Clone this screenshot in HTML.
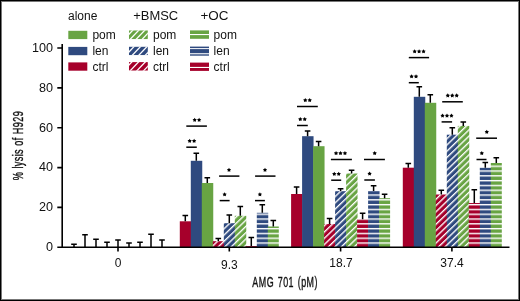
<!DOCTYPE html>
<html><head><meta charset="utf-8"><style>
html,body{margin:0;padding:0;background:#fff}
body{width:520px;height:301px;overflow:hidden;position:relative}
svg{position:absolute;left:0;top:0;will-change:transform}
text{font-family:"Liberation Sans",sans-serif;fill:#111}
.e{stroke:#000;stroke-width:1.5;fill:none}
.l{stroke:#000;stroke-width:1.5;fill:none}
.ax{stroke:#000;stroke-width:1.6;fill:none}
</style></head><body>
<svg width="520" height="301" viewBox="0 0 520 301">
<defs>
<pattern id="h0" patternUnits="userSpaceOnUse" width="4.5" height="6" patternTransform="rotate(46)"><rect width="4.5" height="6" fill="#A6002B"/><rect x="0" width="1.35" height="6" fill="#fff"/></pattern>
<pattern id="h1" patternUnits="userSpaceOnUse" width="4.5" height="6" patternTransform="rotate(46)"><rect width="4.5" height="6" fill="#2F4A7F"/><rect x="0" width="1.35" height="6" fill="#fff"/></pattern>
<pattern id="h2" patternUnits="userSpaceOnUse" width="4.5" height="6" patternTransform="rotate(46)"><rect width="4.5" height="6" fill="#68A443"/><rect x="0" width="1.35" height="6" fill="#fff"/></pattern>
<pattern id="s0" patternUnits="userSpaceOnUse" width="10" height="4.8" y="2.35"><rect width="10" height="4.8" fill="#A6002B"/><rect y="0" width="10" height="1.4" fill="#fff"/></pattern>
<pattern id="s1" patternUnits="userSpaceOnUse" width="10" height="4.8" y="2.35"><rect width="10" height="4.8" fill="#2F4A7F"/><rect y="0" width="10" height="1.4" fill="#fff"/></pattern>
<pattern id="s2" patternUnits="userSpaceOnUse" width="10" height="4.8" y="2.35"><rect width="10" height="4.8" fill="#68A443"/><rect y="0" width="10" height="1.4" fill="#fff"/></pattern>
</defs>
<rect x="0.5" y="0.5" width="519" height="300" fill="none" stroke="#000" stroke-width="1"/>
<rect x="1.5" y="1.5" width="517" height="298" fill="none" stroke="#777" stroke-width="1"/>
<path d="M74 247.3V244.2M71.2 244.2H76.8" class="e"/>
<path d="M85 247.3V234.7M82.2 234.7H87.8" class="e"/>
<path d="M96 247.3V239.2M93.2 239.2H98.8" class="e"/>
<path d="M107 247.3V242.2M104.2 242.2H109.8" class="e"/>
<path d="M118 247.3V239.9M115.2 239.9H120.8" class="e"/>
<path d="M129 247.3V243M126.2 243H131.8" class="e"/>
<path d="M140 247.3V242.2M137.2 242.2H142.8" class="e"/>
<path d="M151 247.3V234.3M148.2 234.3H153.8" class="e"/>
<path d="M162 247.3V239.9M159.2 239.9H164.8" class="e"/>
<rect x="179.8" y="221.3" width="11.45" height="26" fill="#A6002B"/>
<path d="M185.3 221.3V215.6M182.5 215.6H188.1" class="e"/>
<rect x="190.8" y="160.8" width="11.45" height="86.5" fill="#2F4A7F"/>
<path d="M196.3 160.8V153.3M193.5 153.3H199.1" class="e"/>
<rect x="201.8" y="183" width="11.45" height="64.3" fill="#68A443"/>
<path d="M207.3 183V177.8M204.5 177.8H210.1" class="e"/>
<rect x="212.8" y="241.2" width="11.45" height="6.1" fill="url(#h0)"/>
<path d="M218.3 241.2V238.6M215.5 238.6H221.1" class="e"/>
<rect x="223.8" y="223.2" width="11.45" height="24.1" fill="url(#h1)"/>
<path d="M229.3 223.2V215M226.5 215H232.1" class="e"/>
<rect x="234.8" y="215.8" width="11.45" height="31.5" fill="url(#h2)"/>
<path d="M240.3 215.8V206.5M237.5 206.5H243.1" class="e"/>
<rect x="245.8" y="246.1" width="11.45" height="1.2" fill="url(#s0)"/>
<path d="M251.3 246.1V237.6M248.5 237.6H254.1" class="e"/>
<rect x="256.8" y="212.8" width="11.45" height="34.5" fill="url(#s1)"/>
<path d="M262.3 212.8V204.7M259.5 204.7H265.1" class="e"/>
<rect x="267.8" y="226.5" width="11" height="20.8" fill="url(#s2)"/>
<path d="M273.3 226.5V220.5M270.5 220.5H276.1" class="e"/>
<rect x="291.1" y="194" width="11.45" height="53.3" fill="#A6002B"/>
<path d="M296.6 194V187M293.8 187H299.4" class="e"/>
<rect x="302.1" y="136.2" width="11.45" height="111.1" fill="#2F4A7F"/>
<path d="M307.6 136.2V131M304.8 131H310.4" class="e"/>
<rect x="313.1" y="146.2" width="11.45" height="101.1" fill="#68A443"/>
<path d="M318.6 146.2V141.5M315.8 141.5H321.4" class="e"/>
<rect x="324.1" y="224" width="11.45" height="23.3" fill="url(#h0)"/>
<path d="M329.6 224V218.6M326.8 218.6H332.4" class="e"/>
<rect x="335.1" y="191.2" width="11.45" height="56.1" fill="url(#h1)"/>
<path d="M340.6 191.2V188.7M337.8 188.7H343.4" class="e"/>
<rect x="346.1" y="173.5" width="11.45" height="73.8" fill="url(#h2)"/>
<path d="M351.6 173.5V170.3M348.8 170.3H354.4" class="e"/>
<rect x="357.1" y="219.2" width="11.45" height="28.1" fill="url(#s0)"/>
<path d="M362.6 219.2V213.2M359.8 213.2H365.4" class="e"/>
<rect x="368.1" y="191" width="11.45" height="56.3" fill="url(#s1)"/>
<path d="M373.6 191V185.7M370.8 185.7H376.4" class="e"/>
<rect x="379.1" y="198.2" width="11" height="49.1" fill="url(#s2)"/>
<path d="M384.6 198.2V194.3M381.8 194.3H387.4" class="e"/>
<rect x="402.8" y="167.7" width="11.45" height="79.6" fill="#A6002B"/>
<path d="M408.3 167.7V163.5M405.5 163.5H411.1" class="e"/>
<rect x="413.8" y="96.8" width="11.45" height="150.5" fill="#2F4A7F"/>
<path d="M419.3 96.8V86.8M416.5 86.8H422.1" class="e"/>
<rect x="424.8" y="102.8" width="11.45" height="144.5" fill="#68A443"/>
<path d="M430.3 102.8V94.8M427.5 94.8H433.1" class="e"/>
<rect x="435.8" y="194.5" width="11.45" height="52.8" fill="url(#h0)"/>
<path d="M441.3 194.5V190.3M438.5 190.3H444.1" class="e"/>
<rect x="446.8" y="134.7" width="11.45" height="112.6" fill="url(#h1)"/>
<path d="M452.3 134.7V127.7M449.5 127.7H455.1" class="e"/>
<rect x="457.8" y="125.9" width="11.45" height="121.4" fill="url(#h2)"/>
<path d="M463.3 125.9V121.9M460.5 121.9H466.1" class="e"/>
<rect x="468.8" y="203" width="11.45" height="44.3" fill="url(#s0)"/>
<path d="M474.3 203V189.8M471.5 189.8H477.1" class="e"/>
<rect x="479.8" y="167.8" width="11.45" height="79.5" fill="url(#s1)"/>
<path d="M485.3 167.8V162.5M482.5 162.5H488.1" class="e"/>
<rect x="490.8" y="163" width="11" height="84.3" fill="url(#s2)"/>
<path d="M496.3 163V157.8M493.5 157.8H499.1" class="e"/>
<path d="M186.3 126.1H206.9" class="l"/>
<polygon points="194.68,117.65 195.4,118.9 196.81,119.2 195.85,120.28 196,121.72 194.68,121.14 193.35,121.72 193.5,120.28 192.54,119.2 193.95,118.9"/>
<polygon points="199.12,117.65 199.85,118.9 201.26,119.2 200.3,120.28 200.45,121.72 199.12,121.14 197.8,121.72 197.95,120.28 196.99,119.2 198.4,118.9"/>
<path d="M186.3 147.2H196.8" class="l"/>
<polygon points="189.68,138.75 190.4,140 191.81,140.3 190.85,141.38 191,142.82 189.68,142.24 188.35,142.82 188.5,141.38 187.54,140.3 188.95,140"/>
<polygon points="194.12,138.75 194.85,140 196.26,140.3 195.3,141.38 195.45,142.82 194.12,142.24 192.8,142.82 192.95,141.38 191.99,140.3 193.4,140"/>
<path d="M219.1 176.1H239.4" class="l"/>
<polygon points="229,167.65 229.73,168.9 231.14,169.2 230.18,170.28 230.32,171.72 229,171.14 227.68,171.72 227.82,170.28 226.86,169.2 228.27,168.9"/>
<path d="M219.7 200.6H229.6" class="l"/>
<polygon points="224.6,192.15 225.33,193.4 226.74,193.7 225.78,194.78 225.92,196.22 224.6,195.64 223.28,196.22 223.42,194.78 222.46,193.7 223.87,193.4"/>
<path d="M255.1 176.1H275.5" class="l"/>
<polygon points="265,167.65 265.73,168.9 267.14,169.2 266.18,170.28 266.32,171.72 265,171.14 263.68,171.72 263.82,170.28 262.86,169.2 264.27,168.9"/>
<path d="M255 200.6H264.9" class="l"/>
<polygon points="259.9,192.15 260.63,193.4 262.04,193.7 261.08,194.78 261.22,196.22 259.9,195.64 258.58,196.22 258.72,194.78 257.76,193.7 259.17,193.4"/>
<path d="M297 106.5H317.8" class="l"/>
<polygon points="305.27,98.05 306,99.3 307.41,99.6 306.45,100.68 306.6,102.12 305.27,101.54 303.95,102.12 304.1,100.68 303.14,99.6 304.55,99.3"/>
<polygon points="309.73,98.05 310.45,99.3 311.86,99.6 310.9,100.68 311.05,102.12 309.73,101.54 308.4,102.12 308.55,100.68 307.59,99.6 309,99.3"/>
<path d="M297 125.5H307.8" class="l"/>
<polygon points="300.27,117.05 301,118.3 302.41,118.6 301.45,119.68 301.6,121.12 300.27,120.54 298.95,121.12 299.1,119.68 298.14,118.6 299.55,118.3"/>
<polygon points="304.73,117.05 305.45,118.3 306.86,118.6 305.9,119.68 306.05,121.12 304.73,120.54 303.4,121.12 303.55,119.68 302.59,118.6 304,118.3"/>
<path d="M330.9 159.5H351.9" class="l"/>
<polygon points="336.05,151.05 336.78,152.3 338.19,152.6 337.23,153.68 337.37,155.12 336.05,154.54 334.73,155.12 334.87,153.68 333.91,152.6 335.32,152.3"/>
<polygon points="340.5,151.05 341.23,152.3 342.64,152.6 341.68,153.68 341.82,155.12 340.5,154.54 339.18,155.12 339.32,153.68 338.36,152.6 339.77,152.3"/>
<polygon points="344.95,151.05 345.68,152.3 347.09,152.6 346.13,153.68 346.27,155.12 344.95,154.54 343.63,155.12 343.77,153.68 342.81,152.6 344.22,152.3"/>
<path d="M331.2 180.2H341.2" class="l"/>
<polygon points="334.27,171.75 335,173 336.41,173.3 335.45,174.38 335.6,175.82 334.27,175.24 332.95,175.82 333.1,174.38 332.14,173.3 333.55,173"/>
<polygon points="338.73,171.75 339.45,173 340.86,173.3 339.9,174.38 340.05,175.82 338.73,175.24 337.4,175.82 337.55,174.38 336.59,173.3 338,173"/>
<path d="M364 159.5H384.9" class="l"/>
<polygon points="374.7,151.05 375.43,152.3 376.84,152.6 375.88,153.68 376.02,155.12 374.7,154.54 373.38,155.12 373.52,153.68 372.56,152.6 373.97,152.3"/>
<path d="M364.3 180H374.9" class="l"/>
<polygon points="369.6,171.55 370.33,172.8 371.74,173.1 370.78,174.18 370.92,175.62 369.6,175.04 368.28,175.62 368.42,174.18 367.46,173.1 368.87,172.8"/>
<path d="M408.8 57.6H429.1" class="l"/>
<polygon points="414.65,49.15 415.38,50.4 416.79,50.7 415.83,51.78 415.97,53.22 414.65,52.64 413.33,53.22 413.47,51.78 412.51,50.7 413.92,50.4"/>
<polygon points="419.1,49.15 419.83,50.4 421.24,50.7 420.28,51.78 420.42,53.22 419.1,52.64 417.78,53.22 417.92,51.78 416.96,50.7 418.37,50.4"/>
<polygon points="423.55,49.15 424.28,50.4 425.69,50.7 424.73,51.78 424.87,53.22 423.55,52.64 422.23,53.22 422.37,51.78 421.41,50.7 422.82,50.4"/>
<path d="M408.8 82.7H418.8" class="l"/>
<polygon points="411.57,74.25 412.3,75.5 413.71,75.8 412.75,76.88 412.9,78.32 411.57,77.74 410.25,78.32 410.4,76.88 409.44,75.8 410.85,75.5"/>
<polygon points="416.03,74.25 416.75,75.5 418.16,75.8 417.2,76.88 417.35,78.32 416.03,77.74 414.7,78.32 414.85,76.88 413.89,75.8 415.3,75.5"/>
<path d="M442.2 101.8H462.8" class="l"/>
<polygon points="447.8,93.35 448.53,94.6 449.94,94.9 448.98,95.98 449.12,97.42 447.8,96.84 446.48,97.42 446.62,95.98 445.66,94.9 447.07,94.6"/>
<polygon points="452.25,93.35 452.98,94.6 454.39,94.9 453.43,95.98 453.57,97.42 452.25,96.84 450.93,97.42 451.07,95.98 450.11,94.9 451.52,94.6"/>
<polygon points="456.7,93.35 457.43,94.6 458.84,94.9 457.88,95.98 458.02,97.42 456.7,96.84 455.38,97.42 455.52,95.98 454.56,94.9 455.97,94.6"/>
<path d="M441.6 121.9H452.1" class="l"/>
<polygon points="442.55,113.45 443.28,114.7 444.69,115 443.73,116.08 443.87,117.52 442.55,116.94 441.23,117.52 441.37,116.08 440.41,115 441.82,114.7"/>
<polygon points="447,113.45 447.73,114.7 449.14,115 448.18,116.08 448.32,117.52 447,116.94 445.68,117.52 445.82,116.08 444.86,115 446.27,114.7"/>
<polygon points="451.45,113.45 452.18,114.7 453.59,115 452.63,116.08 452.77,117.52 451.45,116.94 450.13,117.52 450.27,116.08 449.31,115 450.72,114.7"/>
<path d="M476.2 138.2H497" class="l"/>
<polygon points="486.8,129.75 487.53,131 488.94,131.3 487.98,132.38 488.12,133.82 486.8,133.24 485.48,133.82 485.62,132.38 484.66,131.3 486.07,131"/>
<path d="M476.5 159.5H486.5" class="l"/>
<polygon points="481.8,151.05 482.53,152.3 483.94,152.6 482.98,153.68 483.12,155.12 481.8,154.54 480.48,155.12 480.62,153.68 479.66,152.6 481.07,152.3"/>
<path class="ax" d="M62.2 44V247.3M57.3 48H62.2M57.3 87.9H62.2M57.3 127.7H62.2M57.3 167.6H62.2M57.3 207.4H62.2M57.3 247.3H509.5M118 247.3V251.5M229.3 247.3V251.5M340.6 247.3V251.5M451.9 247.3V251.5"/>
<g font-size="12">
<g font-size="12.6">
<text x="53" y="51.8" text-anchor="end">100</text>
<text x="53" y="91.7" text-anchor="end">80</text>
<text x="53" y="131.5" text-anchor="end">60</text>
<text x="53" y="171.4" text-anchor="end">40</text>
<text x="53" y="211.2" text-anchor="end">20</text>
<text x="53" y="251.1" text-anchor="end">0</text>
</g>
<text x="118" y="267" text-anchor="middle">0</text>
<text x="229.3" y="269" text-anchor="middle">9.3</text>
<text x="341" y="267" text-anchor="middle">18.7</text>
<text x="452" y="267" text-anchor="middle">37.4</text>
<text x="68" y="20.1">alone</text>
<text x="133.2" y="19.8" textLength="45" lengthAdjust="spacingAndGlyphs">+BMSC</text>
<text x="200.4" y="19.8" textLength="28" lengthAdjust="spacingAndGlyphs">+OC</text>
<text x="92.4" y="38.8">pom</text><text x="92.4" y="54.8">len</text><text x="92.4" y="70.6">ctrl</text>
<text x="153" y="38.8">pom</text><text x="153" y="54.8">len</text><text x="153" y="70.6">ctrl</text>
<text x="213.6" y="38.8">pom</text><text x="213.6" y="54.8">len</text><text x="213.6" y="70.6">ctrl</text>
</g>
<rect x="68.3" y="30.8" width="19" height="8.3" fill="#68A443"/>
<rect x="68.3" y="46.9" width="19" height="8.3" fill="#2F4A7F"/>
<rect x="68.3" y="62.4" width="19" height="8.3" fill="#A6002B"/>
<clipPath id="cg"><rect x="128.9" y="30.3" width="19" height="8.9"/></clipPath><g clip-path="url(#cg)"><rect x="128.9" y="30.3" width="19" height="8.9" fill="#68A443"/><path d="M111.3 40.2L121.66 29.3" stroke="#fff" stroke-width="1.3"/><path d="M117.3 40.2L127.66 29.3" stroke="#fff" stroke-width="1.3"/><path d="M123.3 40.2L133.66 29.3" stroke="#fff" stroke-width="1.3"/><path d="M129.3 40.2L139.66 29.3" stroke="#fff" stroke-width="1.3"/><path d="M135.3 40.2L145.66 29.3" stroke="#fff" stroke-width="1.3"/><path d="M141.3 40.2L151.66 29.3" stroke="#fff" stroke-width="1.3"/><path d="M147.3 40.2L157.66 29.3" stroke="#fff" stroke-width="1.3"/><path d="M153.3 40.2L163.66 29.3" stroke="#fff" stroke-width="1.3"/></g>
<clipPath id="cb"><rect x="128.9" y="46.6" width="19" height="8.6"/></clipPath><g clip-path="url(#cb)"><rect x="128.9" y="46.6" width="19" height="8.6" fill="#2F4A7F"/><path d="M111.9 56.2L121.97 45.6" stroke="#fff" stroke-width="1.3"/><path d="M118.4 56.2L128.47 45.6" stroke="#fff" stroke-width="1.3"/><path d="M124.9 56.2L134.97 45.6" stroke="#fff" stroke-width="1.3"/><path d="M131.4 56.2L141.47 45.6" stroke="#fff" stroke-width="1.3"/><path d="M137.9 56.2L147.97 45.6" stroke="#fff" stroke-width="1.3"/><path d="M144.4 56.2L154.47 45.6" stroke="#fff" stroke-width="1.3"/><path d="M150.9 56.2L160.97 45.6" stroke="#fff" stroke-width="1.3"/></g>
<clipPath id="cr"><rect x="128.9" y="62.1" width="19" height="8.6"/></clipPath><g clip-path="url(#cr)"><rect x="128.9" y="62.1" width="19" height="8.6" fill="#A6002B"/><path d="M109.2 71.7L119.27 61.1" stroke="#fff" stroke-width="1.3"/><path d="M115.9 71.7L125.97 61.1" stroke="#fff" stroke-width="1.3"/><path d="M122.6 71.7L132.67 61.1" stroke="#fff" stroke-width="1.3"/><path d="M129.3 71.7L139.37 61.1" stroke="#fff" stroke-width="1.3"/><path d="M136 71.7L146.07 61.1" stroke="#fff" stroke-width="1.3"/><path d="M142.7 71.7L152.77 61.1" stroke="#fff" stroke-width="1.3"/><path d="M149.4 71.7L159.47 61.1" stroke="#fff" stroke-width="1.3"/></g>
<g>
<rect x="190" y="30.4" width="19" height="3.6" fill="#68A443"/><rect x="190" y="35.1" width="19" height="3.7" fill="#68A443"/>
<rect x="190" y="46.6" width="19" height="1.5" fill="#2F4A7F"/><rect x="190" y="49.1" width="19" height="4.1" fill="#2F4A7F"/><rect x="190" y="54.3" width="19" height="1.4" fill="#2F4A7F"/>
<rect x="190" y="62.6" width="19" height="4.3" fill="#A6002B"/><rect x="190" y="68" width="19" height="2.9" fill="#A6002B"/>
</g>
<text font-size="13.8" stroke="#111" stroke-width="0.35" letter-spacing="0.8" word-spacing="0.9" transform="translate(252.3 287.1) scale(0.645 1)">AMG 701 (pM)</text>
<text font-size="13.8" stroke="#111" stroke-width="0.35" letter-spacing="0.55" word-spacing="0.6" transform="translate(23 180.3) rotate(-90) scale(0.66 1)">% lysis of H929</text>
</svg>
</body></html>
